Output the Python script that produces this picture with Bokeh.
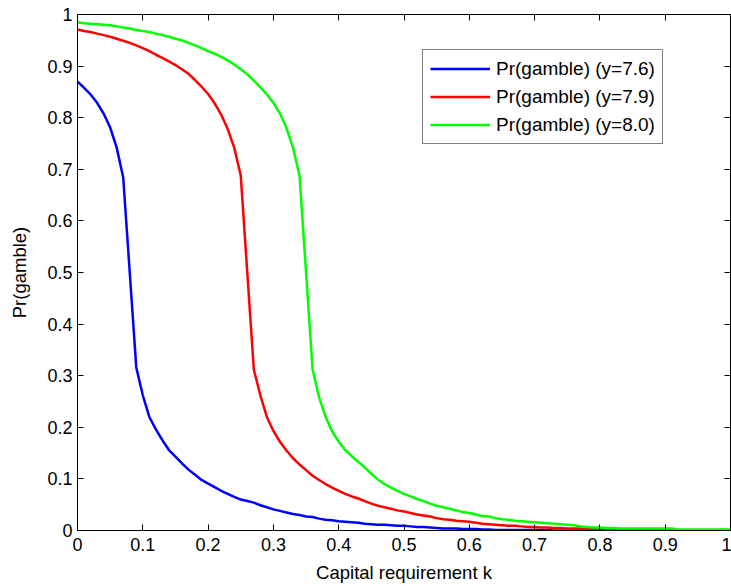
from bokeh.plotting import figure
from bokeh.models import LinearAxis, FixedTicker, Range1d, Legend, LegendItem, ColumnDataSource
from bokeh.embed import file_html
from bokeh.resources import INLINE

# ---------------- data ----------------
k = [round(i * 0.01, 2) for i in range(101)]

pr_y76 = [0.870, 0.858, 0.845, 0.829, 0.808, 0.781, 0.742, 0.684, 0.500, 0.316,
          0.262, 0.220, 0.196, 0.175, 0.156, 0.143, 0.130, 0.118, 0.108, 0.098,
          0.091, 0.084, 0.077, 0.071, 0.065, 0.060, 0.057, 0.054, 0.049, 0.045,
          0.041, 0.038, 0.035, 0.032, 0.030, 0.027, 0.026, 0.023, 0.021, 0.020,
          0.018, 0.017, 0.016, 0.015, 0.013, 0.012, 0.011, 0.011, 0.010, 0.009,
          0.009, 0.008, 0.007, 0.007, 0.006, 0.005, 0.004, 0.004, 0.004, 0.003,
          0.003, 0.003, 0.002, 0.002, 0.001, 0.001, 0.001, 0.001, 0.001, 0.001,
          0.001, 0.001, 0.001, 0.000, 0.000, 0.000, 0.000, 0.000, 0.000, 0.000,
          0.000, 0.000, 0.000, 0.000, 0.000, 0.000, 0.000, 0.000, 0.000, 0.000,
          0.000, 0.000, 0.000, 0.000, 0.000, 0.000, 0.000, 0.000, 0.000, 0.000,
          0.000]

pr_y79 = [0.971, 0.968, 0.966, 0.963, 0.960, 0.957, 0.953, 0.949, 0.945, 0.940,
          0.935, 0.929, 0.922, 0.916, 0.909, 0.902, 0.894, 0.885, 0.873, 0.860,
          0.846, 0.828, 0.806, 0.778, 0.742, 0.688, 0.500, 0.312, 0.262, 0.220,
          0.193, 0.172, 0.155, 0.140, 0.128, 0.117, 0.106, 0.098, 0.090, 0.083,
          0.077, 0.071, 0.066, 0.062, 0.057, 0.052, 0.048, 0.045, 0.042, 0.039,
          0.037, 0.034, 0.031, 0.029, 0.027, 0.024, 0.022, 0.021, 0.019, 0.018,
          0.017, 0.015, 0.013, 0.012, 0.011, 0.010, 0.009, 0.009, 0.008, 0.007,
          0.007, 0.006, 0.006, 0.005, 0.005, 0.004, 0.004, 0.004, 0.003, 0.003,
          0.003, 0.002, 0.002, 0.001, 0.001, 0.001, 0.001, 0.001, 0.001, 0.001,
          0.000, 0.000, 0.000, 0.000, 0.000, 0.000, 0.000, 0.000, 0.000, 0.000,
          0.000]

pr_y80 = [0.985, 0.983, 0.982, 0.981, 0.980, 0.979, 0.977, 0.975, 0.973, 0.970,
          0.968, 0.966, 0.963, 0.960, 0.957, 0.953, 0.950, 0.945, 0.940, 0.935,
          0.929, 0.924, 0.918, 0.911, 0.903, 0.894, 0.884, 0.872, 0.859, 0.845,
          0.829, 0.808, 0.780, 0.742, 0.688, 0.500, 0.312, 0.258, 0.220, 0.192,
          0.172, 0.156, 0.144, 0.133, 0.122, 0.110, 0.099, 0.090, 0.083, 0.077,
          0.071, 0.066, 0.061, 0.057, 0.052, 0.048, 0.045, 0.042, 0.039, 0.036,
          0.034, 0.031, 0.028, 0.027, 0.024, 0.022, 0.021, 0.019, 0.018, 0.017,
          0.016, 0.015, 0.014, 0.013, 0.012, 0.011, 0.010, 0.008, 0.007, 0.006,
          0.006, 0.005, 0.005, 0.004, 0.004, 0.004, 0.004, 0.004, 0.004, 0.004,
          0.004, 0.004, 0.002, 0.002, 0.002, 0.002, 0.002, 0.002, 0.002, 0.002,
          0.002]

series_labels = ["Pr(gamble) (y=7.6)", "Pr(gamble) (y=7.9)", "Pr(gamble) (y=8.0)"]
series_colors = ["#0000FF", "#FF0000", "#00FF00"]

x_ticks = [0, 0.1, 0.2, 0.3, 0.4, 0.5, 0.6, 0.7, 0.8, 0.9, 1]
x_tick_labels = ["0", "0.1", "0.2", "0.3", "0.4", "0.5", "0.6", "0.7", "0.8", "0.9", "1"]
y_ticks = [0, 0.1, 0.2, 0.3, 0.4, 0.5, 0.6, 0.7, 0.8, 0.9, 1]
y_tick_labels = ["0", "0.1", "0.2", "0.3", "0.4", "0.5", "0.6", "0.7", "0.8", "0.9", "1"]

x_title = "Capital requirement k"
y_title = "Pr(gamble)"

# ---------------- figure ----------------
FONT = "Liberation Sans"
TICK_FS = "18px"
TITLE_FS = "18.5px"

p = figure(width=731, height=586, output_backend="svg", toolbar_location=None,
           x_range=Range1d(0, 1), y_range=Range1d(0, 1),
           min_border_left=77, min_border_right=1, min_border_top=14, min_border_bottom=56)
p.background_fill_color = "white"
p.border_fill_color = "white"
p.outline_line_color = "black"
p.outline_line_width = 1
p.xgrid.visible = False
p.ygrid.visible = False

src = ColumnDataSource(dict(k=k, a=pr_y76, b=pr_y79, c=pr_y80))
r1 = p.line("k", "a", source=src, line_color=series_colors[0], line_width=2.5)
r2 = p.line("k", "b", source=src, line_color=series_colors[1], line_width=2.5)
r3 = p.line("k", "c", source=src, line_color=series_colors[2], line_width=2.5)


def style_axis(ax, ticks, labels, show_labels=True):
    ax.ticker = FixedTicker(ticks=ticks)
    ax.minor_tick_line_color = None
    ax.major_tick_in = 6
    ax.major_tick_out = 0
    ax.major_tick_line_color = "black"
    ax.major_tick_line_width = 1
    ax.axis_line_color = "black"
    ax.axis_line_width = 1
    if show_labels:
        ax.major_label_overrides = {t: l for t, l in zip(ticks, labels)}
        ax.major_label_text_font = FONT
        ax.major_label_text_font_size = TICK_FS
        ax.major_label_text_color = "black"
    else:
        ax.major_label_text_font_size = "0px"
        ax.major_label_standoff = 0
        ax.major_label_text_alpha = 0


xa = p.xaxis[0]
style_axis(xa, x_ticks, x_tick_labels)
xa.major_label_standoff = 7
xa.axis_label = x_title
xa.axis_label_text_font = FONT
xa.axis_label_text_font_size = TITLE_FS
xa.axis_label_text_font_style = "normal"
xa.axis_label_text_color = "black"
xa.axis_label_standoff = 8

ya = p.yaxis[0]
style_axis(ya, y_ticks, y_tick_labels)
ya.major_label_standoff = 5
ya.axis_label = y_title
ya.axis_label_text_font = FONT
ya.axis_label_text_font_size = TITLE_FS
ya.axis_label_text_font_style = "normal"
ya.axis_label_text_color = "black"
ya.axis_label_standoff = 14

top_ax = LinearAxis()
style_axis(top_ax, x_ticks, x_tick_labels, show_labels=False)
p.add_layout(top_ax, "above")
right_ax = LinearAxis()
style_axis(right_ax, y_ticks, y_tick_labels, show_labels=False)
p.add_layout(right_ax, "right")

legend = Legend(items=[LegendItem(label=series_labels[0], renderers=[r1]),
                       LegendItem(label=series_labels[1], renderers=[r2]),
                       LegendItem(label=series_labels[2], renderers=[r3])],
                location=(345, 386))
legend.label_text_font = FONT
legend.label_text_font_size = "19px"
legend.label_text_color = "black"
legend.glyph_width = 60
legend.glyph_height = 23
legend.label_height = 23
legend.label_standoff = 6
legend.padding = 7
legend.spacing = 5
legend.margin = 0
legend.border_line_color = "black"
legend.border_line_width = 1.5
legend.background_fill_color = "white"
legend.background_fill_alpha = 1
p.add_layout(legend, "center")

open("out.html", "w").write(file_html(p, INLINE))
